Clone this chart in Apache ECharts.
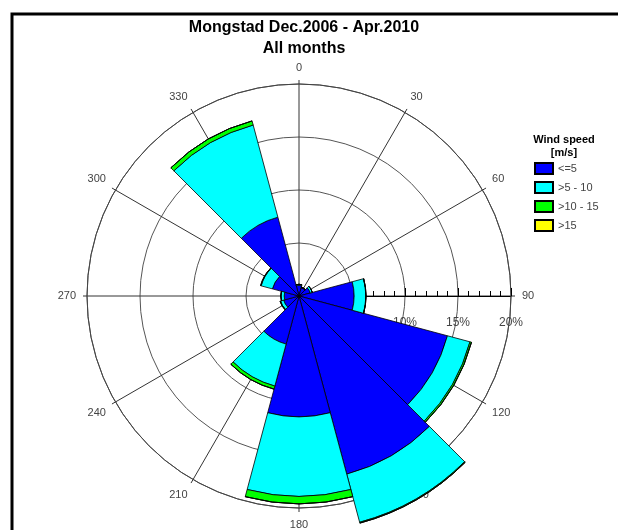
<!DOCTYPE html>
<html lang="en">
<head>
    <meta charset="UTF-8">
    <title>Mongstad wind rose</title>
    <script src="https://cdn.jsdelivr.net/npm/echarts@6/dist/echarts.min.js"></script>
</head>
<body style="margin: 0">
<div id="container" style="width:618px;height:530px;"></div>
<script>
    // direction sectors (degrees), 30 deg wide
    var directions = ["0", "30", "60", "90", "120", "150", "180", "210", "240", "270", "300", "330"];
    // frequency in % per speed class
    var speedLe5   = [1.0, 0.8, 1.1, 5.2, 14.5, 17.4, 11.4, 4.7, 1.5, 1.4, 2.6, 7.7];
    var speed5to10 = [0.1, 0.05, 0.2, 1.1, 2.2, 4.7, 7.5, 4.1, 0.3, 0.3, 1.1, 9.0];
    var speed10to15 = [0, 0, 0, 0.02, 0.15, 0.08, 0.7, 0.3, 0.05, 0.02, 0.05, 0.4];
    var speedGt15  = [0, 0, 0, 0, 0, 0, 0, 0, 0, 0, 0, 0];
    var classNames = ["<=5", ">5 - 10", ">10 - 15", ">15"];
    var classColors = ["#0000ff", "#00ffff", "#00ff00", "#ffff00"];

    var dom = document.getElementById("container");
    var myChart = echarts.init(dom, null, { renderer: "canvas" });

    var center = [299, 296];
    var R = 212;   // pixel radius of the 20% ring

    function barSeries(i, values) {
        return {
            name: classNames[i],
            type: "bar",
            coordinateSystem: "polar",
            polarIndex: 1,
            stack: "wind",
            barCategoryGap: "0%",
            data: values,
            itemStyle: { color: classColors[i], borderColor: "#000", borderWidth: 0.8 },
            emphasis: { disabled: true }
        };
    }

    var option = {
        animation: false,
        title: [
            {
                text: "Mongstad Dec.2006 - Apr.2010\nAll months",
                left: 299, top: 12, textAlign: "center",
                textStyle: { fontFamily: "Liberation Sans", fontSize: 16, fontWeight: "bold", color: "#000", lineHeight: 21 }
            },
            {
                text: "Wind speed\n[m/s]",
                left: 559, top: 128, textAlign: "center",
                textStyle: { fontFamily: "Liberation Sans", fontSize: 11, fontWeight: "bold", color: "#000", lineHeight: 13 }
            }
        ],
        legend: {
            orient: "vertical",
            left: 534, top: 162,
            itemWidth: 18, itemHeight: 11, itemGap: 6,
            padding: 0,
            selectedMode: false,
            icon: "rect",
            data: classNames,
            textStyle: { fontFamily: "Liberation Sans", fontSize: 11, color: "#444" }
        },
        polar: [
            { center: center, radius: R },
            { center: center, radius: R * 1.25 }
        ],
        angleAxis: [
            {
                polarIndex: 0,
                type: "value",
                min: 90, max: 450, interval: 30,
                startAngle: 0, clockwise: true,
                axisLine: { lineStyle: { color: "#444", width: 1 } },
                axisTick: { show: true, length: 4, lineStyle: { color: "#333" } },
                axisLabel: {
                    margin: 11, color: "#444", fontFamily: "Liberation Sans", fontSize: 11,
                    showMaxLabel: false,
                    formatter: function (v) { return String(v % 360); }
                },
                splitLine: { show: true, lineStyle: { color: "#333", width: 1 } }
            },
            {
                polarIndex: 1,
                type: "category",
                data: directions,
                startAngle: 105, clockwise: true,
                axisLine: { show: false }, axisTick: { show: false },
                axisLabel: { show: false }, splitLine: { show: false }
            }
        ],
        radiusAxis: [
            {
                polarIndex: 0,
                type: "value",
                min: 0, max: 20, interval: 5,
                axisLine: { show: true, lineStyle: { color: "#000", width: 1 } },
                axisTick: { show: true, inside: true, length: 8, lineStyle: { color: "#000" } },
                minorTick: { show: true, splitNumber: 5, length: 5, lineStyle: { color: "#000" } },
                axisLabel: {
                    margin: -21, verticalAlign: "top",
                    color: "#444", fontFamily: "Liberation Sans", fontSize: 12,
                    formatter: function (v) { return v === 0 ? "" : v + "%"; }
                },
                splitLine: { show: true, lineStyle: { color: "#555", width: 1 } }
            },
            {
                polarIndex: 1,
                type: "value",
                min: 0, max: 25,
                axisLine: { show: false }, axisTick: { show: false },
                axisLabel: { show: false }, splitLine: { show: false }
            }
        ],
        graphic: [
            {
                type: "rect",
                shape: { x: 12, y: 14, width: 700, height: 600 },
                style: { fill: null, stroke: "#000", lineWidth: 3 },
                silent: true
            }
        ],
        series: [
            barSeries(0, speedLe5),
            barSeries(1, speed5to10),
            barSeries(2, speed10to15),
            barSeries(3, speedGt15)
        ]
    };

    myChart.setOption(option);
</script>
</body>
</html>
